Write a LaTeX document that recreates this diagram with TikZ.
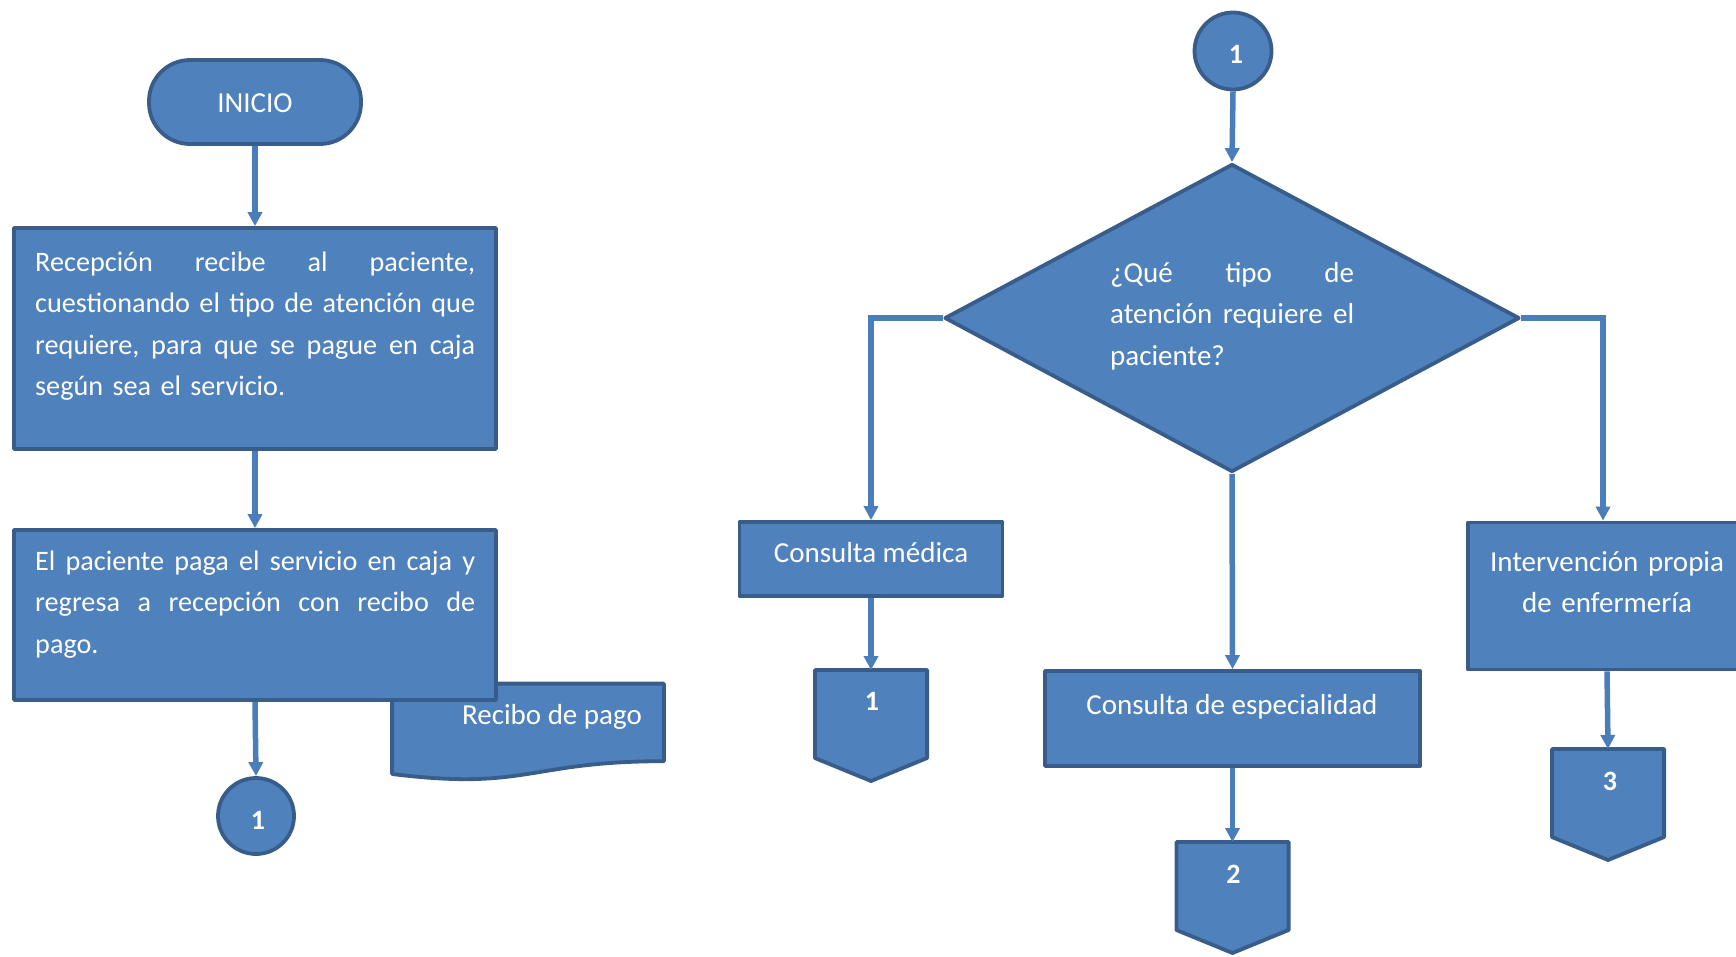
\documentclass[tikz,border=0pt]{standalone}
\usepackage{fontspec}
\setmainfont{Carlito}
\usetikzlibrary{shapes.geometric,arrows.meta}
\definecolor{boxfill}{HTML}{4F81BD}
\definecolor{boxline}{HTML}{385D8A}
\definecolor{linkcol}{HTML}{4A7EBB}
% a line whose words are spread over the full width
\newcommand{\spreadline}[2]{\leavevmode\hbox to #1{#2}}
\begin{document}
\begin{tikzpicture}[x=1pt,y=-1pt,
  shapeline/.style={draw=boxline, fill=boxfill, line width=3.8pt, line join=round},
  procbox/.style={shapeline, rectangle, inner sep=0pt},
  ghost/.style={rectangle, inner sep=0pt, outer sep=1.9pt},
  conn/.style={draw=linkcol, line width=5.5pt, -{Triangle[length=14pt,width=14pt]}},
  txt/.style={text=white, font=\fontsize{29}{41.5}\selectfont, inner sep=0pt},
  boxtxt/.style={text=white, font=\fontsize{28.2}{41.5}\selectfont, inner sep=0pt},
  num/.style={text=white, font=\fontsize{28}{34}\selectfont\bfseries, inner sep=0pt, anchor=base},
  offpage/.style={ghost, minimum width=108.4pt, minimum height=84.2pt},
]
\useasboundingbox (0,0) rectangle (1736,956);

% ---------- left column ----------
\node[procbox, rounded corners=41pt, minimum width=212pt, minimum height=84pt] (inicio) at (255,102) {};
\node[txt, anchor=base] (iniciot) at (255,112) {INICIO};

\node[procbox, minimum width=482pt, minimum height=221pt] (b1) at (255,338.5) {};
\node[boxtxt, anchor=base west, text width=440pt, align=left] (b1t) at (35,271)
  {\spreadline{440pt}{Recepción\hfill recibe\hfill al\hfill paciente,}\\
   \spreadline{440pt}{cuestionando\hfill el\hfill tipo\hfill de\hfill atención\hfill que}\\
   \spreadline{440pt}{requiere,\hfill para\hfill que\hfill se\hfill pague\hfill en\hfill caja}\\
   según sea el servicio.};

% document symbol, partly covered by the second box
\node[ghost, minimum width=268pt, minimum height=93pt] (doc) at (528,732) {};
\draw[shapeline] (doc.north west) -- (doc.north east) -- ([yshift=19.2pt]doc.south east)
  .. controls ([yshift=19.2pt]doc.south) and ([yshift=-10.4pt]doc.south) .. ([yshift=6.4pt]doc.south west) -- cycle;
\node[txt, anchor=base] (doct) at (552,724) {Recibo de pago};

\node[procbox, minimum width=482pt, minimum height=170pt] (b2) at (255,615) {};
\node[boxtxt, anchor=base west, text width=440pt, align=left] (b2t) at (35,570)
  {\spreadline{440pt}{El\hfill paciente\hfill paga\hfill el\hfill servicio\hfill en\hfill caja\hfill y}\\
   \spreadline{440pt}{regresa\hfill a\hfill recepción\hfill con\hfill recibo\hfill de}\\
   pago.};

\node[shapeline, circle, inner sep=0pt, minimum size=76pt] (c1) at (256,816) {};
\node[num] (c1n) at (258,829) {1};

\draw[conn] (inicio.south) -- (b1.north);
\draw[conn] (b1.south) -- (b2.north);
\draw[conn] (b2.south) -- (c1.north);

% ---------- right part ----------
\node[shapeline, circle, inner sep=0pt, minimum size=77pt] (c2) at (1233,51) {};
\node[num] (c2n) at (1236,63) {1};

\node[shapeline, diamond, inner sep=0pt, minimum width=575pt, minimum height=308pt] (dec) at (1232,318) {};
\node[txt, anchor=base west, text width=244pt, align=left] (dect) at (1110,282)
  {\spreadline{244pt}{¿Qué\hfill tipo\hfill de}\\
   \spreadline{244pt}{atención\hfill requiere\hfill el}\\
   paciente?};

\node[procbox, minimum width=263pt, minimum height=74pt] (cm) at (871,559) {};
\node[txt, anchor=base] (cmt) at (871,562) {Consulta médica};

\node[procbox, minimum width=375pt, minimum height=95pt] (ce) at (1232.5,718.5) {};
\node[txt, anchor=base] (cet) at (1232,714) {Consulta de especialidad};

\node[procbox, minimum width=278pt, minimum height=147pt] (iv) at (1607,596) {};
\node[txt, anchor=base, text width=282pt, align=center] (ivt) at (1607,571)
  {Intervención propia\\de enfermería};

% off-page connectors
\node[offpage] (op1) at (871,714) {};
\draw[shapeline] (op1.north west) -- (op1.north east) -- (op1.south east)
  -- ([yshift=-23pt]op1.south) -- (op1.south west) -- cycle;
\node[num] (op1n) at (872,710) {1};

\node[offpage] (op2) at (1232.5,886) {};
\draw[shapeline] (op2.north west) -- (op2.north east) -- (op2.south east)
  -- ([yshift=-23pt]op2.south) -- (op2.south west) -- cycle;
\node[num] (op2n) at (1233.5,883) {2};

\node[offpage] (op3) at (1608,793) {};
\draw[shapeline] (op3.north west) -- (op3.north east) -- (op3.south east)
  -- ([yshift=-23pt]op3.south) -- (op3.south west) -- cycle;
\node[num] (op3n) at (1610,790) {3};

\draw[conn] (c2.south) -- (dec.north);
\draw[conn] (dec.west) -| (cm.north);
\draw[conn] (dec.east) -| ([xshift=-4pt]iv.north);
\draw[conn] (dec.south) -- (ce.north);
\draw[conn] (cm.south) -- (op1.north);
\draw[conn] (ce.south) -- (op2.north);
\draw[conn] (iv.south) -- (op3.north);
\end{tikzpicture}
\end{document}
